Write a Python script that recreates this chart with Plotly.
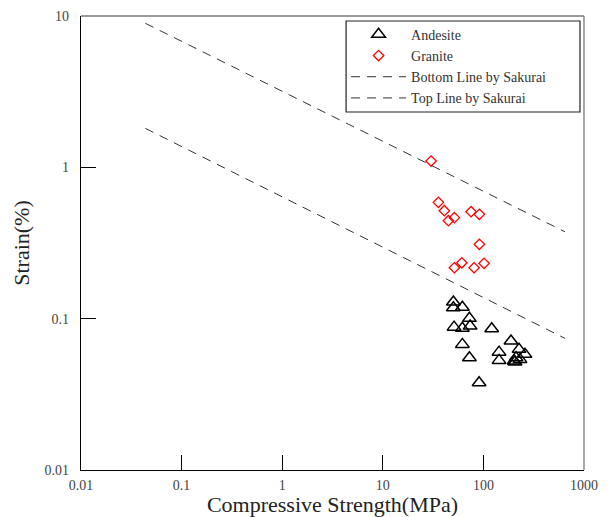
import plotly.graph_objects as go

# ---- data ----
andesite_strength = [50.3, 50.3, 61.8, 72.6, 51.1, 61.8, 73.8, 121, 61.8, 72.6,
                     90.6, 188, 143, 143, 226, 259, 211, 202, 231, 206]
andesite_strain = [0.129, 0.118, 0.119, 0.1005, 0.0879, 0.0863, 0.0893, 0.0858, 0.0676, 0.0552,
                   0.0377, 0.0711, 0.0601, 0.0530, 0.0627, 0.0581, 0.0552, 0.0525, 0.0538, 0.0517]

granite_strength = [30.2, 35.7, 40.9, 51.5, 44.9, 75.4, 91.2, 91.2, 61.0, 51.5, 80.8, 101.6]
granite_strain = [1.10, 0.587, 0.517, 0.465, 0.444, 0.509, 0.489, 0.310, 0.234, 0.217, 0.217, 0.232]

bottom_line_strength = [0.0436, 647]
bottom_line_strain = [1.81, 0.0741]
top_line_strength = [0.0436, 647]
top_line_strain = [8.95, 0.375]

x_tickvals = [0.01, 0.1, 1, 10, 100, 1000]
x_ticktext = ["0.01", "0.1", "1", "10", "100", "1000"]
y_tickvals = [0.01, 0.1, 1, 10]
y_ticktext = ["0.01", "0.1", "1", "10"]

SERIF = "Liberation Serif"

fig = go.Figure()
fig.add_trace(go.Scatter(
    x=andesite_strength, y=andesite_strain, mode="markers", name="Andesite",
    marker=dict(symbol="triangle-up-open", size=12, color="black", line=dict(width=1.5, color="black")),
))
fig.add_trace(go.Scatter(
    x=granite_strength, y=granite_strain, mode="markers", name="Granite",
    marker=dict(symbol="diamond-open", size=8, color="red", line=dict(width=1.3, color="red")),
))
fig.add_trace(go.Scatter(
    x=bottom_line_strength, y=bottom_line_strain, mode="lines", name="Bottom Line by Sakurai",
    line=dict(color="#333333", width=1, dash="9px,7px"),
))
fig.add_trace(go.Scatter(
    x=top_line_strength, y=top_line_strain, mode="lines", name="Top Line by Sakurai",
    line=dict(color="#333333", width=1, dash="9px,7px"),
))

fig.update_layout(
    width=609, height=517,
    margin=dict(l=81, r=25, t=16, b=47),
    paper_bgcolor="white", plot_bgcolor="white",
    font=dict(family=SERIF, color="#444444"),
    showlegend=True,
    legend=dict(
        x=0.527, y=0.994, xanchor="left", yanchor="top",
        bgcolor="rgba(0,0,0,0)", borderwidth=0,
        font=dict(family=SERIF, size=14, color="#333333"),
        itemwidth=55, tracegroupgap=0,
    ),
    xaxis=dict(
        type="log", range=[-2, 3], automargin=False,
        tickvals=x_tickvals, ticktext=x_ticktext,
        ticks="inside", ticklen=15, tickcolor="black", tickwidth=1,
        showgrid=False, zeroline=False,
        showline=True, linecolor="black", linewidth=1.3,
        tickfont=dict(family=SERIF, size=14, color="#444444"),
        ticklabelstandoff=2,
        title=dict(text="Compressive Strength(MPa)", standoff=2,
                   font=dict(family=SERIF, size=22, color="#222222")),
    ),
    yaxis=dict(
        type="log", range=[-2, 1], automargin=False,
        tickvals=y_tickvals, ticktext=y_ticktext,
        ticks="inside", ticklen=15, tickcolor="black", tickwidth=1,
        showgrid=False, zeroline=False,
        showline=True, linecolor="black", linewidth=1.3,
        tickfont=dict(family=SERIF, size=14, color="#444444"),
        ticklabelstandoff=8,
        title=dict(text="Strain(%)", standoff=8,
                   font=dict(family=SERIF, size=22, color="#222222")),
    ),
    shapes=[
        dict(type="line", xref="paper", yref="paper", x0=0, x1=1, y0=1, y1=1,
             line=dict(color="#777777", width=1.3)),
        dict(type="line", xref="paper", yref="paper", x0=1, x1=1, y0=0, y1=1,
             line=dict(color="#777777", width=1.3)),
        # legend frame
        dict(type="rect", xref="paper", yref="paper", x0=0.527, x1=0.992, y0=0.7885, y1=0.989,
             line=dict(color="#222222", width=1.2), fillcolor="white", layer="above"),
    ],
)

fig.write_html("out.html")
